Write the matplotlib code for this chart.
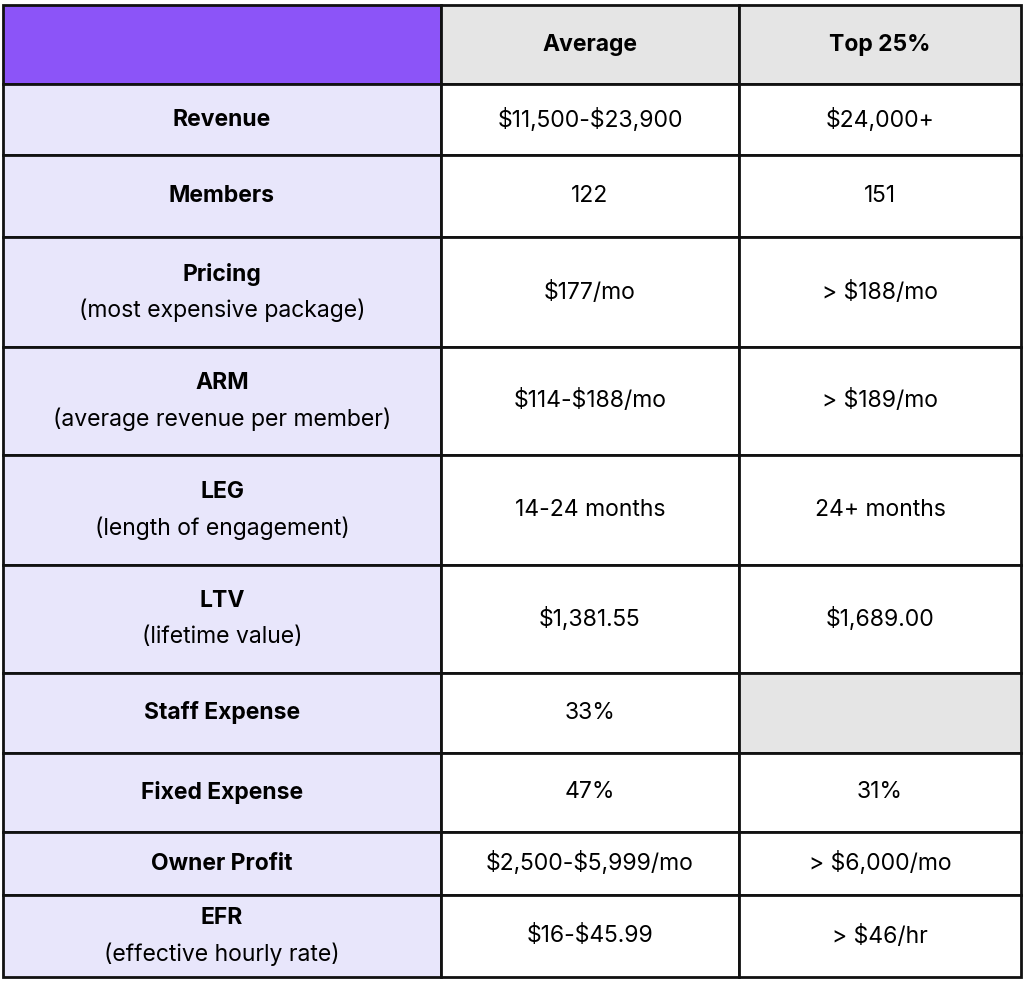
import matplotlib.pyplot as plt
from matplotlib.patches import Rectangle

plt.rcParams['font.family'] = 'Inter'
plt.rcParams['text.parse_math'] = False

headers = ['', 'Average', 'Top 25%']
row_titles = ['Revenue', 'Members', 'Pricing', 'ARM', 'LEG', 'LTV',
              'Staff Expense', 'Fixed Expense', 'Owner Profit', 'EFR']
row_notes = ['', '', '(most expensive package)', '(average revenue per member)',
             '(length of engagement)', '(lifetime value)', '', '', '',
             '(effective hourly rate)']
average = ['$11,500-$23,900', '122', '$177/mo', '$114-$188/mo', '14-24 months',
           '$1,381.55', '33%', '47%', '$2,500-$5,999/mo', '$16-$45.99']
top25 = ['$24,000+', '151', '> $188/mo', '> $189/mo', '24+ months',
         '$1,689.00', '', '31%', '> $6,000/mo', '> $46/hr']

W, H = 1024, 982
fig = plt.figure(figsize=(W / 100, H / 100), dpi=100)
ax = fig.add_axes([0, 0, 1, 1])
ax.set_xlim(0, W)
ax.set_ylim(H, 0)
ax.axis('off')

col_x = [3, 441, 739, 1021]
row_y = [5, 84, 155, 237, 347, 455, 565, 673, 753, 832, 895, 977]

purple = '#8c54f8'
lav = '#e8e6fb'
gray = '#e5e5e5'
fs = 16.5

def cell(c, r, fc):
    x0, x1 = col_x[c], col_x[c + 1]
    y0, y1 = row_y[r], row_y[r + 1]
    ax.add_patch(Rectangle((x0, y0), x1 - x0, y1 - y0, facecolor=fc,
                           edgecolor='#111111', linewidth=2))
    return (x0 + x1) / 2, (y0 + y1) / 2

# header
cell(0, 0, purple)
for c in (1, 2):
    cx, cy = cell(c, 0, gray)
    ax.text(cx, cy, headers[c], ha='center', va='center', fontsize=fs, fontweight='bold')

for i in range(len(row_titles)):
    r = i + 1
    cx, cy = cell(0, r, lav)
    if row_notes[i]:
        ax.text(cx, cy - 18, row_titles[i], ha='center', va='center', fontsize=fs, fontweight='bold')
        ax.text(cx, cy + 18, row_notes[i], ha='center', va='center', fontsize=fs)
    else:
        ax.text(cx, cy, row_titles[i], ha='center', va='center', fontsize=fs, fontweight='bold')
    cx, cy = cell(1, r, 'white')
    ax.text(cx, cy, average[i], ha='center', va='center', fontsize=fs)
    cx, cy = cell(2, r, gray if top25[i] == '' else 'white')
    ax.text(cx, cy, top25[i], ha='center', va='center', fontsize=fs)

fig.savefig('out.png', dpi=100)
